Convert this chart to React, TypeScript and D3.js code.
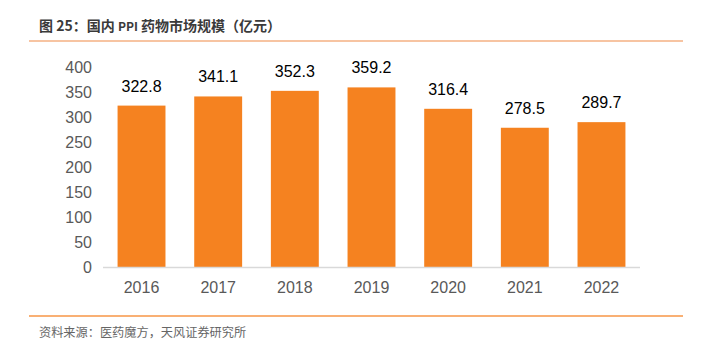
import React from 'react';
import * as d3 from 'd3';

const years = ['2016', '2017', '2018', '2019', '2020', '2021', '2022'];
const marketSize = [322.8, 341.1, 352.3, 359.2, 316.4, 278.5, 289.7];
const yTicks = [0, 50, 100, 150, 200, 250, 300, 350, 400];

const WIDTH = 714;
const HEIGHT = 352;
const margin = { l: 103, r: 74, t: 67, b: 85 };

const App = () => {
  const innerW = WIDTH - margin.l - margin.r;
  const innerH = HEIGHT - margin.t - margin.b;

  const xScale = d3.scaleBand().domain(years).range([0, innerW]).paddingInner(0.375).paddingOuter(0.19);
  const yScale = d3.scaleLinear().domain([0, 400]).range([innerH, 0]);

  const cjk = '"Noto Sans CJK SC", sans-serif';
  const latin = 'Arial, "Liberation Sans", sans-serif';

  return (
    <svg
      width={WIDTH}
      height={HEIGHT}
      style={{ position: 'absolute', left: 0, top: 0, background: '#fff' }}
    >
      <text x={39} y={31} fontFamily={cjk} fontWeight="bold" fontSize={14} fill="#3a3a3a">
        图 25：国内 <tspan fontSize={12}>PPI</tspan> 药物市场规模（亿元）
      </text>
      <line x1={29} x2={683} y1={41} y2={41} stroke="#f4b183" strokeWidth={1.5} />

      <g transform={`translate(${margin.l}, ${margin.t})`}>
        {yTicks.map((t) => (
          <text
            key={t}
            x={-11}
            y={yScale(t)}
            dy="0.35em"
            textAnchor="end"
            fontFamily={latin}
            fontSize={16}
            fill="#595959"
          >
            {t}
          </text>
        ))}
        {marketSize.map((v, i) => (
          <g key={years[i]}>
            <rect
              x={xScale(years[i])}
              y={yScale(v)}
              width={xScale.bandwidth()}
              height={innerH - yScale(v)}
              fill="#f58220"
            />
            <text
              x={(xScale(years[i]) as number) + xScale.bandwidth() / 2}
              y={yScale(v) - 14}
              textAnchor="middle"
              fontFamily={latin}
              fontSize={16}
              fill="#000"
            >
              {v.toFixed(1)}
            </text>
            <text
              x={(xScale(years[i]) as number) + xScale.bandwidth() / 2}
              y={innerH + 26}
              textAnchor="middle"
              fontFamily={latin}
              fontSize={16}
              fill="#595959"
            >
              {years[i]}
            </text>
          </g>
        ))}
        <line x1={0} x2={innerW} y1={innerH + 0.5} y2={innerH + 0.5} stroke="#d9d9d9" strokeWidth={1.5} />
      </g>

      <line x1={29} x2={683} y1={316} y2={316} stroke="#f79646" strokeWidth={1.5} />
      <text x={39} y={337} fontFamily={cjk} fontSize={12.2} fill="#666">
        资料来源：医药魔方，天风证券研究所
      </text>
    </svg>
  );
};

export default App;
